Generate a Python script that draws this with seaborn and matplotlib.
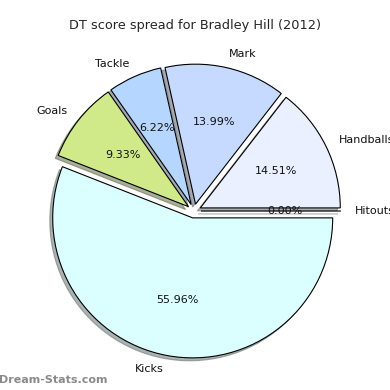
import matplotlib
matplotlib.use("Agg")
import matplotlib.pyplot as plt
import seaborn as sns

sns.set_style("white")
plt.rcParams['font.family'] = ['DejaVu Sans']

categories = ["Hitouts", "Handballs", "Mark", "Tackle", "Goals", "Kicks"]
values = [0, 28, 27, 12, 18, 108]  # DT points per stat
colors = ["#f4f4ff", "#eaf0ff", "#c6d9ff", "#b5d6ff", "#d0ea8a", "#dbffff"]
title = "DT score spread for Bradley Hill (2012)"

fig = plt.figure(figsize=(3.9, 3.9), dpi=100)
ax = fig.add_axes([19/390, 4/390, 350/390, 350/390])
wedges, texts, autotexts = ax.pie(
    values, labels=categories, colors=colors, explode=[0.05]*len(values),
    autopct='%1.2f%%', pctdistance=0.6, labeldistance=1.1,
    shadow={'ox': -0.015, 'oy': -0.015, 'shade': 0.6},
    startangle=0, counterclock=True,
    wedgeprops=dict(edgecolor='black', linewidth=0.8),
    textprops=dict(fontsize=8, color='#111111'))
ax.set_xlim(-1.25, 1.25)
ax.set_ylim(-1.25, 1.25)
ax.set_aspect('equal')
fig.text(0.5, 1 - 25/390, title, ha='center', va='center', fontsize=9.3)
fig.text(-0.003, 10/390, "Dream-Stats.com", ha='left', va='center',
         fontsize=8, color='#8a8a8a', fontweight='bold')
fig.savefig("out.png", dpi=100)
